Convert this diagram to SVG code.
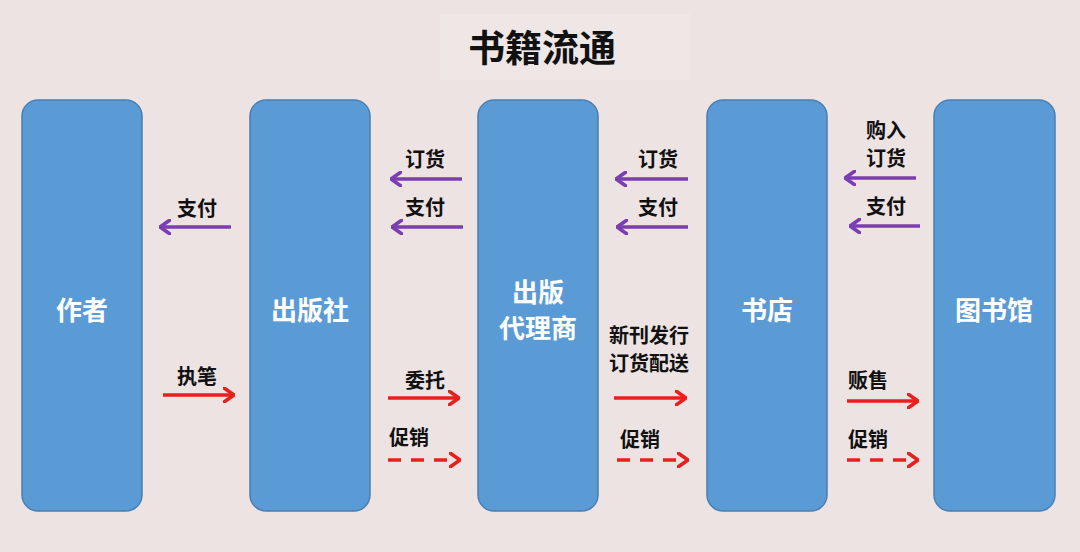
<svg xmlns="http://www.w3.org/2000/svg" width="1080" height="552" viewBox="0 0 1080 552">
<defs>
<marker id="hp" viewBox="0 0 12 16" refX="11" refY="8" markerWidth="12" markerHeight="16" markerUnits="userSpaceOnUse" orient="auto">
<path d="M1,1 L11,8 L1,15" fill="none" stroke="#7a3db3" stroke-width="3.6" stroke-linecap="round" stroke-linejoin="round"/>
</marker>
<marker id="hr" viewBox="0 0 12 16" refX="11" refY="8" markerWidth="12" markerHeight="16" markerUnits="userSpaceOnUse" orient="auto">
<path d="M1,1 L11,8 L1,15" fill="none" stroke="#e8201c" stroke-width="3.6" stroke-linecap="round" stroke-linejoin="round"/>
</marker>
</defs>
<style>
.box{fill:#5b9bd5;stroke:#4a7fb3;stroke-width:1.5}
.nt{font-family:"Noto Sans CJK SC",sans-serif;font-weight:bold;font-size:26px;fill:#fff;text-anchor:middle}
.lb{font-family:"Noto Sans CJK SC",sans-serif;font-weight:bold;font-size:20px;fill:#111}
.p{stroke:#7a3db3;stroke-width:3.6;fill:none;marker-end:url(#hp)}
.r{stroke:#e8201c;stroke-width:3.6;fill:none;marker-end:url(#hr)}
.d{stroke-dasharray:13 10}
</style>
<rect width="1080" height="552" fill="#ede3e3"/>
<rect x="440" y="14" width="250" height="66" fill="#efe6e6"/>
<text x="542" y="62" font-family="Noto Sans CJK SC,sans-serif" font-weight="bold" font-size="37" fill="#111" text-anchor="middle">书籍流通</text>
<g id="n1"><rect class="box" x="22" y="100" width="120" height="411" rx="16"/><text class="nt" x="82" y="320">作者</text></g>
<g id="n2"><rect class="box" x="250" y="100" width="120" height="411" rx="16"/><text class="nt" x="310" y="320">出版社</text></g>
<g id="n3"><rect class="box" x="478" y="100" width="120" height="411" rx="16"/><text class="nt" x="538" y="302">出版</text><text class="nt" x="538" y="338">代理商</text></g>
<g id="n4"><rect class="box" x="707" y="100" width="120" height="411" rx="16"/><text class="nt" x="767" y="320">书店</text></g>
<g id="n5"><rect class="box" x="934" y="100" width="121" height="411" rx="16"/><text class="nt" x="994" y="320">图书馆</text></g>
<g id="connectors">
<path class="p" d="M231,227 H160"/>
<path class="p" d="M462,179 H391"/>
<path class="p" d="M463,227 H392"/>
<path class="p" d="M688,179 H616"/>
<path class="p" d="M688,227 H617"/>
<path class="p" d="M916,178 H845"/>
<path class="p" d="M920,226 H850"/>
<path class="r" d="M163,395 H234"/>
<path class="r" d="M388,398 H459"/>
<path class="r d" d="M388,460 H460"/>
<path class="r" d="M614,398 H686"/>
<path class="r d" d="M617,460 H688"/>
<path class="r" d="M847,401 H918"/>
<path class="r d" d="M847,460 H918"/>
</g>
<g id="labels">
<text class="lb" x="197" y="216" text-anchor="middle">支付</text>
<text class="lb" x="425" y="167" text-anchor="middle">订货</text>
<text class="lb" x="425" y="215" text-anchor="middle">支付</text>
<text class="lb" x="658" y="167" text-anchor="middle">订货</text>
<text class="lb" x="658" y="215" text-anchor="middle">支付</text>
<text class="lb" x="886" y="138" text-anchor="middle">购入</text>
<text class="lb" x="886" y="166" text-anchor="middle">订货</text>
<text class="lb" x="886" y="214" text-anchor="middle">支付</text>
<text class="lb" x="197" y="384" text-anchor="middle">执笔</text>
<text class="lb" x="425" y="388" text-anchor="middle">委托</text>
<text class="lb" x="389" y="445">促销</text>
<text class="lb" x="609" y="343">新刊发行</text>
<text class="lb" x="609" y="371">订货配送</text>
<text class="lb" x="620" y="447">促销</text>
<text class="lb" x="848" y="388">贩售</text>
<text class="lb" x="848" y="447">促销</text>
</g>
</svg>
